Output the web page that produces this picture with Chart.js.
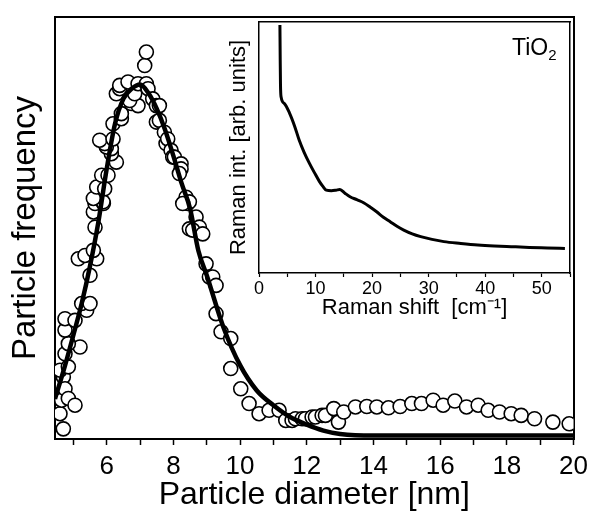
<!DOCTYPE html>
<html>
<head>
<meta charset="utf-8">
<script src="https://cdn.jsdelivr.net/npm/chart.js@4.4.1/dist/chart.umd.min.js"></script>
<style>
  body { margin: 0; background: #fff; }
  #wrap { position: relative; width: 594px; height: 515px; }
  #mainChart { position: absolute; left: 0; top: 0; }
  #insetChart { position: absolute; left: 215px; top: 10px; }
  #tio2 {
    position: absolute; left: 512px; top: 36px;
    font: 23px 'Liberation Sans', Arial, sans-serif; line-height: 23px; color: #000;
  }
  #tio2 sub { font-size: 15px; vertical-align: -5px; }
</style>
</head>
<body>
<div id="wrap">
  <canvas id="mainChart" width="594" height="515"></canvas>
  <canvas id="insetChart" width="365" height="320"></canvas>
  <div id="tio2">TiO<sub>2</sub></div>
</div>
<script>
const FONT = "'Liberation Sans', Arial, sans-serif";

// measured size distribution (open circles)
const diameter = [
  4.60, 4.65, 4.70, 4.70, 4.75, 4.60, 4.85, 4.85, 5.05, 4.75,
  5.20, 4.85, 4.75, 4.75, 5.05, 5.40, 5.25, 5.50, 5.50, 5.15,
  5.35, 5.70, 5.60, 5.65, 5.60, 5.65, 5.90, 5.89, 5.60, 5.70,
  5.94, 5.85, 6.04, 6.29, 6.14, 6.14, 5.99, 5.94, 5.79, 6.19,
  6.19, 6.44, 6.44, 6.74, 6.94, 6.69, 6.84, 6.29, 6.39, 6.39,
  6.64, 6.94, 7.19, 7.24, 7.14, 7.19, 7.38, 7.49, 7.58, 7.49,
  7.58, 7.73, 7.78, 7.83, 7.93, 7.98, 8.03, 8.23, 8.23, 8.18,
  8.38, 8.43, 8.48, 8.28, 8.68, 8.78, 8.48, 8.58, 8.88, 8.98,
  9.08, 9.18, 9.28, 9.28, 9.43, 9.72, 9.72, 10.02, 10.27, 10.57,
  10.87, 11.17, 11.37, 11.56, 11.66, 11.86, 11.96, 12.16, 12.26, 12.46,
  12.56, 12.81, 12.95, 13.11, 13.46, 13.80, 14.10, 14.45, 14.80, 15.15,
  15.44, 15.79, 16.09, 16.44, 16.79, 17.14, 17.44, 17.78, 18.13, 18.43,
  18.83, 19.38, 19.87
];
const frequency = [
  6.0, 9.2, 2.4, 14.7, 11.9, 16.3, 9.6, 17.1, 8.0, 20.2,
  21.8, 22.6, 25.8, 28.5, 28.1, 30.5, 32.1, 32.1, 38.8, 42.7,
  43.5, 42.7, 44.7, 50.2, 53.8, 55.8, 55.8, 56.2, 57.0, 59.7,
  59.3, 62.5, 62.5, 65.6, 67.6, 68.8, 69.2, 70.0, 70.8, 71.1,
  74.7, 75.9, 77.1, 79.5, 79.0, 80.2, 81.8, 81.8, 83.0, 83.8,
  84.6, 84.2, 84.2, 83.0, 88.5, 91.7, 80.6, 79.0, 79.0, 75.1,
  75.5, 72.7, 70.0, 71.1, 68.4, 66.8, 66.8, 65.2, 64.0, 62.9,
  57.3, 55.8, 56.2, 55.8, 52.6, 50.2, 49.8, 49.5, 48.6, 41.5,
  38.4, 38.4, 36.4, 29.7, 25.4, 23.8, 16.7, 11.9, 8.4, 6.0,
  6.8, 6.8, 4.4, 4.4, 4.8, 4.8, 4.8, 5.2, 5.2, 5.6,
  5.6, 7.2, 4.0, 6.4, 7.6, 7.7, 7.6, 7.4, 7.7, 8.4,
  8.4, 9.2, 8.0, 9.0, 7.6, 8.0, 6.8, 6.4, 6.0, 5.6,
  4.8, 4.0, 3.6
];

// fitted curve (thick line)
const fitDiameter = [
  4.45, 4.75, 5.0, 5.25, 5.5, 5.75, 6.0, 6.25, 6.5, 6.75,
  7.0, 7.25, 7.5, 7.75, 8.0, 8.25, 8.5, 8.75, 9.0, 9.5,
  10.0, 10.5, 11.0, 11.5, 12.0, 12.5, 13.0, 14.0, 20.0
];
const fitFrequency = [
  9.5, 17.4, 24.6, 32.1, 41.0, 51.4, 64.0, 74.7, 80.6, 83.0,
  84.0, 82.0, 78.3, 73.3, 67.1, 60.5, 54.6, 44.6, 38.8, 26.5,
  17.5, 11.5, 8.0, 5.2, 3.4, 2.0, 1.2, 0.8, 0.8
];

// inset: Raman spectrum
const ramanShift = [
  3.7, 3.75, 3.8, 3.9, 4.5, 5.4, 6.3, 7.1, 8.0, 8.9,
  9.8, 10.7, 11.3, 11.9, 12.8, 13.6, 14.3, 15.2, 16.1, 17.3,
  18.5, 19.7, 20.8, 22.0, 23.2, 24.4, 25.6, 27.1, 28.6, 30.6,
  32.7, 35.7, 38.7, 41.6, 44.6, 47.8, 51.0, 54.1
];
const ramanIntensity = [
  98.8, 85, 75, 70.2, 67.5, 63.7, 58.5, 53, 48, 43.8,
  40, 36.4, 34.5, 33, 32.8, 33, 33.3, 31.8, 30.4, 29.2,
  28, 26.2, 24.4, 22.2, 20.4, 18.6, 17.1, 15.6, 14.5, 13.4,
  12.5, 11.8, 11.2, 10.8, 10.5, 10.2, 10.0, 9.8
];

const toXY = (xs, ys) => xs.map((x, i) => ({ x, y: ys[i] }));

// plain frame side: border only, no ticks, no size
function frameSide(position, min, max, width) {
  return {
    type: 'linear', position, min, max,
    ticks: { display: false },
    grid: { display: false },
    border: { color: '#000', width },
    afterFit: s => {
      if (position === 'top' || position === 'bottom') s.height = 0;
      else s.width = 0;
    }
  };
}

// --- main chart --- //
new Chart(document.getElementById('mainChart'), {
  type: 'scatter',
  data: {
    datasets: [
      {
        label: 'fit',
        data: toXY(fitDiameter, fitFrequency),
        showLine: true,
        borderColor: '#000',
        borderWidth: 4.5,
        pointRadius: 0,
        cubicInterpolationMode: 'monotone',
        order: 0
      },
      {
        label: 'data',
        data: toXY(diameter, frequency),
        pointRadius: 7,
        pointBackgroundColor: '#fff',
        pointBorderColor: '#000',
        pointBorderWidth: 1.6,
        clip: 0,
        order: 1
      }
    ]
  },
  options: {
    responsive: false,
    animation: false,
    layout: { padding: { top: 17, right: 18, bottom: 0, left: 0 } },
    plugins: { legend: { display: false }, tooltip: { enabled: false } },
    scales: {
      x: {
        type: 'linear', position: 'bottom', min: 4.45, max: 20,
        ticks: {
          stepSize: 1, includeBounds: false, autoSkip: false, maxRotation: 0,
          color: '#000', padding: 6,
          font: { family: FONT, size: 26 },
          callback: v => (v % 2 === 0 ? v : '')
        },
        grid: { drawOnChartArea: false, color: '#000', tickLength: 6, tickWidth: 1.5 },
        border: { color: '#000', width: 2 },
        title: {
          display: true, text: 'Particle diameter [nm]', color: '#000',
          font: { family: FONT, size: 32 }, padding: { top: 0, bottom: 1 }
        },
        afterFit: s => { s.height = 76; }
      },
      y: {
        type: 'linear', position: 'left', min: 0, max: 100,
        ticks: { display: false },
        grid: { display: false },
        border: { color: '#000', width: 2 },
        title: {
          display: true, text: 'Particle frequency', color: '#000',
          font: { family: FONT, size: 33 }, padding: { top: 6, bottom: 0 }
        },
        afterFit: s => { s.width = 55; }
      },
      xTop: frameSide('top', 4.45, 20, 2),
      yRight: frameSide('right', 0, 100, 2)
    }
  }
});

// --- inset --- //
new Chart(document.getElementById('insetChart'), {
  type: 'scatter',
  data: {
    datasets: [{
      label: 'Raman',
      data: toXY(ramanShift, ramanIntensity),
      showLine: true,
      borderColor: '#000',
      borderWidth: 3,
      pointRadius: 0,
      cubicInterpolationMode: 'monotone'
    }]
  },
  options: {
    responsive: false,
    animation: false,
    layout: { padding: { top: 12, right: 10, bottom: 0, left: 0 } },
    plugins: { legend: { display: false }, tooltip: { enabled: false } },
    scales: {
      x: {
        type: 'linear', position: 'bottom', min: 0, max: 55,
        ticks: {
          stepSize: 5, includeBounds: false, autoSkip: false, maxRotation: 0,
          color: '#000', padding: 1,
          font: { family: FONT, size: 18 },
          callback: v => (v % 10 === 0 ? v : '')
        },
        grid: { drawOnChartArea: false, color: '#000', tickLength: 4, tickWidth: 1.2 },
        border: { color: '#000', width: 1.5 },
        title: {
          display: true, text: 'Raman shift  [cm\u207B\u00B9]', color: '#000',
          font: { family: FONT, size: 22 }, padding: { top: 0, bottom: 9 }
        },
        afterFit: s => { s.height = 57; }
      },
      y: {
        type: 'linear', position: 'left', min: 0, max: 100,
        ticks: { display: false },
        grid: { display: false },
        border: { color: '#000', width: 1.5 },
        title: {
          display: true, text: 'Raman int. [arb. units]', color: '#000',
          font: { family: FONT, size: 22 }, padding: { top: 11, bottom: 0 }
        },
        afterFit: s => { s.width = 44; }
      },
      xTop: frameSide('top', 0, 55, 1.5),
      yRight: frameSide('right', 0, 100, 1.5)
    }
  }
});
</script>
</body>
</html>
